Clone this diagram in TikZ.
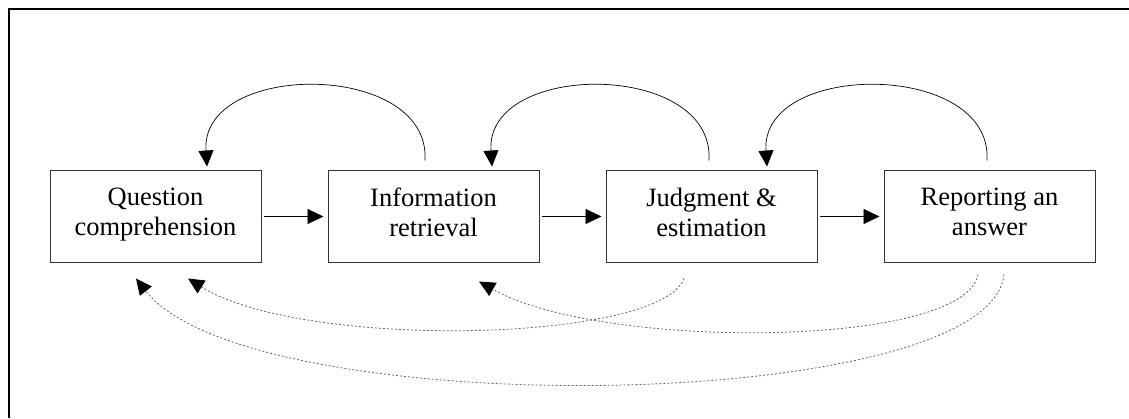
\documentclass[tikz,border=0pt]{standalone}
\usepackage{fontspec}
\setmainfont{Liberation Serif}
\usetikzlibrary{arrows.meta,positioning}
\newcommand\stagew{105.5pt}
\newcommand\stageh{45.5pt}
\newcommand\stagegap{33pt}
\newcommand\tipl{8pt}
\newcommand\tipw{7.5pt}

\begin{document}
\begin{tikzpicture}[
    stage/.style={draw=black!80,line width=0.5pt,minimum width=\stagew,minimum height=\stageh,
      inner sep=0pt,align=center,execute at begin node=\strut,execute at end node=\strut,
      font=\fontsize{13.25pt}{15pt}\selectfont},
    fwd/.style={-{Triangle[length=\tipl,width=\tipw]},line width=0.4pt,shorten <=1pt,shorten >=2pt},
    back/.style={-{Triangle[length=\tipl,width=\tipw]},line width=0.35pt},
    recheck/.style={-{Triangle[length=\tipl,width=\tipw,color=black]},line width=0.4pt,black!60,dash pattern=on 1pt off 1pt}
  ]
    \useasboundingbox (0,0) rectangle (564.5pt,209pt);
    \draw[line width=1pt] (4.5pt,0) -- (4.5pt,204.5pt) -- (564.5pt,204.5pt);

    % the four stages
    \node[stage] (qc) at (77.75pt,100.75pt) {Question\\comprehension};
    \node[stage,right=\stagegap of qc] (ir) {Information\\retrieval};
    \node[stage,right=\stagegap of ir] (je) {Judgment \&\\estimation};
    \node[stage,right=\stagegap of je] (ra) {Reporting an\\answer};

    % forward
    \draw[fwd] (qc) -- (ir);
    \draw[fwd] (ir) -- (je);
    \draw[fwd] (je) -- (ra);

    % back to the previous stage
    \draw[back] ([xshift=-4.25pt,yshift=5pt]ir.north) .. controls +(3pt,50pt) and +(-3.5pt,53pt) .. ([xshift=25.75pt,yshift=2pt]qc.north);
    \draw[back] ([xshift=-1.25pt,yshift=5pt]je.north) .. controls +(3pt,50pt) and +(-3.5pt,53pt) .. ([xshift=29.25pt,yshift=2pt]ir.north);
    \draw[back] ([xshift=-1.25pt,yshift=5pt]ra.north) .. controls +(3pt,50pt) and +(-3.5pt,53pt) .. ([xshift=27.75pt,yshift=2pt]je.north);

    % dotted returns
    \draw[recheck] ([xshift=-13.75pt,yshift=-8pt]je.south) .. controls +(-11.5pt,-32pt) and +(57.5pt,-36pt) .. ([xshift=16.25pt,yshift=-8pt]qc.south);
    \draw[recheck] ([xshift=-5.75pt,yshift=-6pt]ra.south) .. controls +(-6.5pt,-37pt) and +(61pt,-34.5pt) .. ([xshift=22.75pt,yshift=-9.5pt]ir.south);
    \draw[recheck] ([xshift=7.25pt,yshift=-6pt]ra.south) .. controls +(-7pt,-70pt) and +(57pt,-73pt) .. ([xshift=-9.75pt,yshift=-8pt]qc.south);
  \end{tikzpicture}
\end{document}
